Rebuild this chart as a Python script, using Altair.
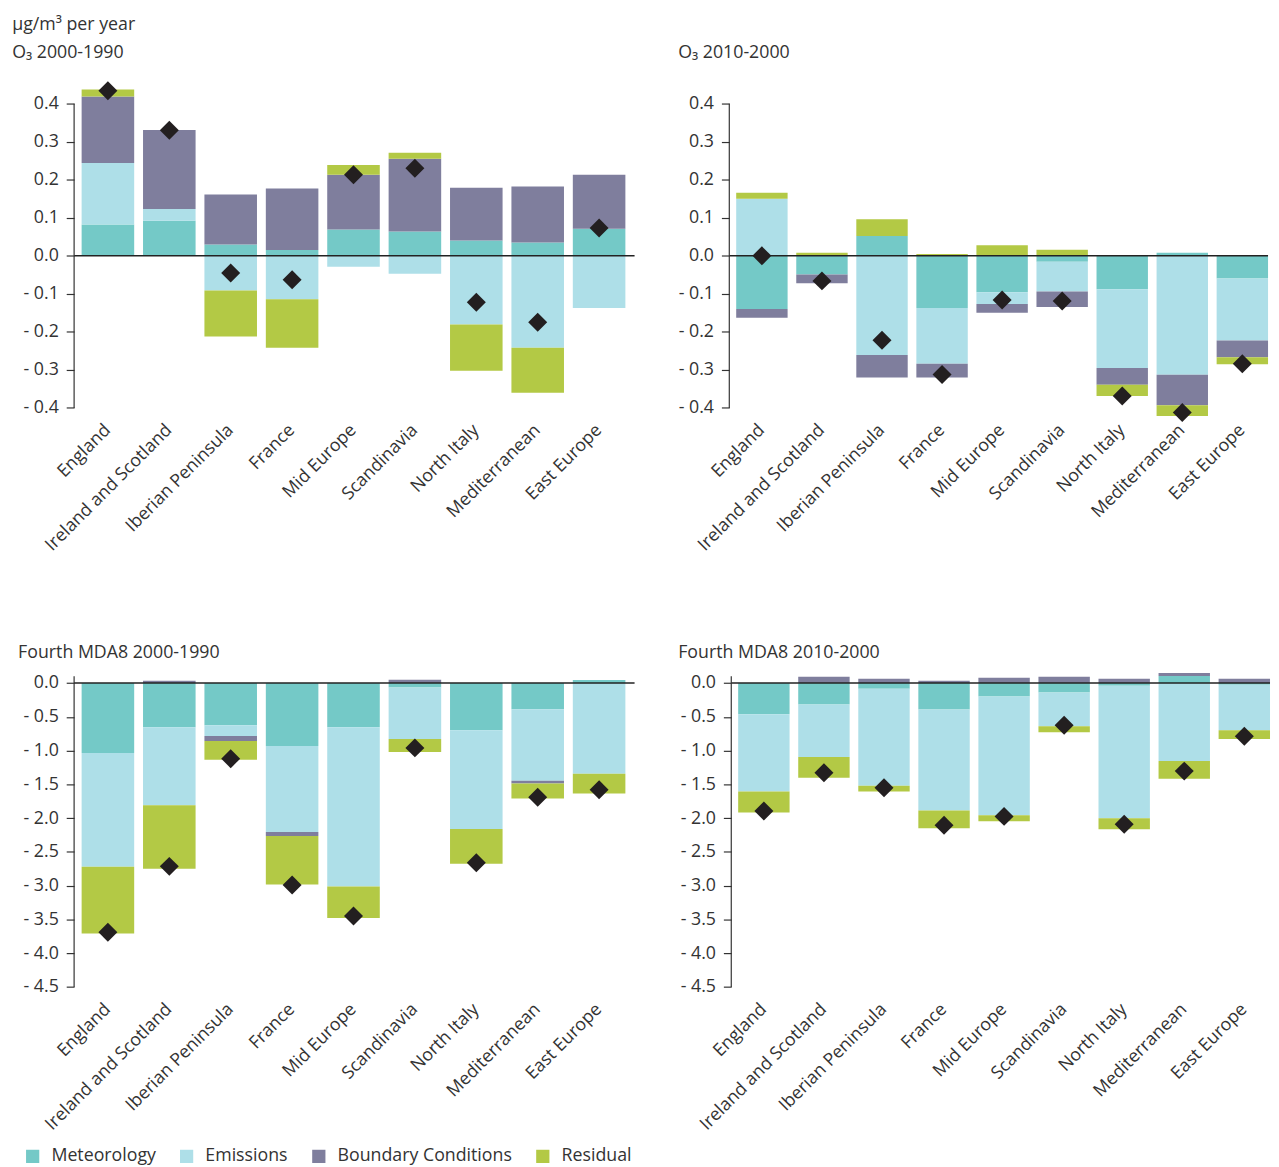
import altair as alt
import pandas as pd

regions = ["England", "Ireland and Scotland", "Iberian Peninsula", "France", "Mid Europe",
           "Scandinavia", "North Italy", "Mediterranean", "East Europe"]
components = ["Meteorology", "Emissions", "Boundary Conditions", "Residual"]
colors = ["#74c9c7", "#aedfe8", "#7f7e9d", "#b3c945"]

# O3 2000-1990
met1 = [0.082, 0.092, 0.030, 0.015, 0.069, 0.064, 0.040, 0.035, 0.071]
emi1 = [0.162, 0.031, -0.091, -0.114, -0.029, -0.047, -0.181, -0.242, -0.137]
bc1 = [0.175, 0.208, 0.131, 0.162, 0.144, 0.191, 0.139, 0.147, 0.142]
res1 = [0.018, 0.0, -0.121, -0.128, 0.026, 0.016, -0.121, -0.118, 0.0]
tot1 = [0.434, 0.330, -0.045, -0.063, 0.213, 0.230, -0.122, -0.175, 0.073]

# O3 2010-2000
met2 = [-0.140, -0.049, 0.052, -0.137, -0.096, -0.016, -0.088, 0.008, -0.060]
emi2 = [0.150, 0.0, -0.261, -0.147, -0.031, -0.078, -0.207, -0.313, -0.163]
bc2 = [-0.023, -0.023, -0.059, -0.036, -0.023, -0.041, -0.044, -0.080, -0.044]
res2 = [0.016, 0.008, 0.044, 0.005, 0.028, 0.016, -0.030, -0.028, -0.018]
tot2 = [0.0, -0.066, -0.222, -0.312, -0.116, -0.119, -0.369, -0.412, -0.284]

# Fourth MDA8 2000-1990
met3 = [-1.035, -0.654, -0.625, -0.932, -0.654, -0.065, -0.698, -0.390, 0.045]
emi3 = [-1.683, -1.157, -0.161, -1.274, -2.357, -0.765, -1.464, -1.055, -1.342]
bc3 = [0.0, 0.034, -0.073, -0.059, 0.0, 0.049, 0.0, -0.044, 0.0]
res3 = [-0.991, -0.937, -0.278, -0.717, -0.469, -0.190, -0.512, -0.219, -0.293]
tot3 = [-3.69, -2.714, -1.12, -2.99, -3.45, -0.96, -2.66, -1.69, -1.58]

# Fourth MDA8 2010-2000
met4 = [-0.464, -0.318, -0.083, -0.391, -0.200, -0.142, -0.039, 0.104, -0.024]
emi4 = [-1.143, -0.776, -1.436, -1.495, -1.759, -0.498, -1.964, -1.153, -0.675]
bc4 = [0.0, 0.093, 0.064, 0.034, 0.078, 0.093, 0.064, 0.045, 0.064]
res4 = [-0.308, -0.308, -0.088, -0.264, -0.088, -0.088, -0.161, -0.264, -0.131]
tot4 = [-1.895, -1.329, -1.549, -2.106, -1.974, -0.625, -2.09, -1.304, -0.787]

o3_ticks = [-0.4, -0.3, -0.2, -0.1, 0.0, 0.1, 0.2, 0.3, 0.4]
mda_ticks = [-4.5, -4.0, -3.5, -3.0, -2.5, -2.0, -1.5, -1.0, -0.5, 0.0]

FONT = "Open Sans"
TXT = "#333333"
LABEL_EXPR = "datum.value < 0 ? '- ' + format(-datum.value, '.1f') : format(datum.value, '.1f')"


def long_df(met, emi, bc, res):
    rows = []
    for i, r in enumerate(regions):
        for k, (c, vals) in enumerate(zip(components, [met, emi, bc, res])):
            rows.append({"region": r, "component": c, "order": k, "value": vals[i]})
    return pd.DataFrame(rows)


def panel(title_lines, met, emi, bc, res, tot, dom, axis_lo, axis_hi, ticks, width, height,
          xscale, offset, dx):
    bars_df = long_df(met, emi, bc, res)
    tot_df = pd.DataFrame({"region": regions, "total": tot})
    xaxis = alt.Axis(labelAngle=-45, labelAlign="right", labelBaseline="middle",
                     domain=False, ticks=False, labelPadding=8, labelFontSize=18,
                     labelFont=FONT, labelColor=TXT, labelLimit=300, labelOverlap=False)
    yaxis = alt.Axis(values=ticks, domain=False, ticks=True, tickSize=8,
                     tickColor=TXT, tickWidth=1.2, labelExpr=LABEL_EXPR, grid=False,
                     labelFontSize=18, labelFont=FONT, labelColor=TXT,
                     labelPadding=8, labelOverlap=False, labelBound=False)
    yscale = alt.Scale(domain=dom, nice=False, zero=False)
    bars = alt.Chart(bars_df).mark_bar().encode(
        x=alt.X("region:N", sort=regions, title=None, scale=xscale, axis=xaxis),
        y=alt.Y("value:Q", stack="zero", scale=yscale, title=None, axis=yaxis),
        color=alt.Color("component:N", scale=alt.Scale(domain=components, range=colors),
                        legend=alt.Legend(title=None, orient="none", direction="horizontal",
                                          legendX=-51, legendY=1081, padding=0,
                                          symbolType="square", symbolSize=180,
                                          symbolStrokeWidth=0, labelFontSize=18,
                                          labelFont=FONT, labelColor=TXT, columnPadding=22,
                                          labelOffset=10, labelLimit=300)),
        order=alt.Order("order:Q", sort="ascending"),
    )
    zero = alt.Chart(pd.DataFrame({"z": [0.0]})).mark_rule(color="#222222", strokeWidth=1.5).encode(
        y=alt.Y("z:Q", title=None, axis=yaxis))
    axis_line = alt.Chart(pd.DataFrame({"lo": [axis_lo], "hi": [axis_hi]})).mark_rule(
        color=TXT, strokeWidth=1.2).encode(x=alt.value(0), y=alt.Y("lo:Q", title=None, axis=yaxis),
                                           y2="hi:Q")
    diamonds = alt.Chart(tot_df).mark_point(shape="diamond", filled=True, size=370,
                                            color="#231f20", opacity=1).encode(
        x=alt.X("region:N", sort=regions, title=None, axis=xaxis),
        y=alt.Y("total:Q", title=None, axis=yaxis))
    return alt.layer(bars, zero, axis_line, diamonds).properties(
        width=width, height=height,
        title=alt.Title(title_lines, anchor="start", fontSize=18, fontWeight="normal",
                        font=FONT, color=TXT, lineHeight=29, frame="bounds", offset=offset,
                        dx=dx))


W_L, W_R = 568, 546
H_T = 343
H_B = 330

xs_left = alt.Scale(paddingInner=0.144, paddingOuter=0.136, align=0.45)
xs_right = alt.Scale(paddingInner=0.144, paddingOuter=0.0575, align=1)

p1 = panel(["μg/m³ per year", "O₃ 2000-1990"], met1, emi1, bc1, res1, tot1,
           [-0.43, 0.46], -0.4, 0.4, o3_ticks, W_L, H_T, xs_left, 19, -11)
p2 = panel([" ", "O₃ 2010-2000"], met2, emi2, bc2, res2, tot2,
           [-0.43, 0.46], -0.4, 0.4, o3_ticks, W_R, H_T, xs_right, 19, 0)
p3 = panel(["Fourth MDA8 2000-1990"], met3, emi3, bc3, res3, tot3,
           [-4.67, 0.15], -4.5, 0.1, mda_ticks, W_L, H_B, xs_left, 11, -5)
p4 = panel(["Fourth MDA8 2010-2000"], met4, emi4, bc4, res4, tot4,
           [-4.67, 0.15], -4.5, 0.1, mda_ticks, W_R, H_B, xs_right, 11, -2)

top = alt.hconcat(p1, p2, spacing=43)
bottom = alt.hconcat(p3, p4, spacing=43)
chart = alt.vconcat(top, bottom, spacing=91).configure_view(strokeWidth=0, stroke="transparent").properties(
    padding={"left": 4, "top": 0, "right": 0, "bottom": 0})

chart.save("out.html", embed_options={"renderer": "svg", "actions": False})
